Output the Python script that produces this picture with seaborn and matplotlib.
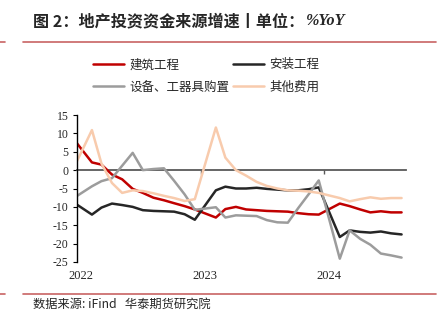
import numpy as np
import pandas as pd
import matplotlib
matplotlib.use("Agg")
import matplotlib.pyplot as plt
import matplotlib.dates as mdates
import matplotlib.transforms as mtransforms
from matplotlib.lines import Line2D
import seaborn as sns

# ---------------- data ----------------
months = ["2021-12",
          "2022-02", "2022-03", "2022-04", "2022-05", "2022-06", "2022-07",
          "2022-08", "2022-09", "2022-10", "2022-11", "2022-12",
          "2023-02", "2023-03", "2023-04", "2023-05", "2023-06", "2023-07",
          "2023-08", "2023-09", "2023-10", "2023-11", "2023-12",
          "2024-02", "2024-03", "2024-04", "2024-05", "2024-06", "2024-07",
          "2024-08"]
construction = [9.4,
                2.1, 1.5, -1.2, -2.5, -5.1, -6.2, -7.5, -8.2, -9.0, -9.8, -10.7,
                -12.9, -10.6, -10.0, -10.7, -10.9, -11.1, -11.2, -11.3, -11.7, -12.0, -12.1,
                -9.1, -9.8, -10.7, -11.5, -11.2, -11.5, -11.5]
installation = [-8.3,
                -12.1, -10.2, -9.1, -9.5, -10.0, -10.9, -11.1, -11.2, -11.3, -12.0, -13.5,
                -5.5, -4.5, -5.0, -5.0, -4.8, -5.1, -5.3, -5.5, -5.5, -5.2, -4.7,
                -18.2, -16.4, -16.8, -17.0, -16.7, -17.2, -17.5]
equipment = [-8.1,
             -4.4, -3.0, -2.2, 1.2, 4.7, 0.0, 0.3, 0.5, -2.9, -6.6, -10.8,
             -10.1, -12.9, -12.3, -12.4, -12.5, -13.6, -14.2, -14.3, -10.4, -6.6, -2.8,
             -24.1, -16.4, -18.7, -20.3, -22.7, -23.2, -23.8]
other = [-1.0,
         10.9, 1.8, -3.5, -6.2, -5.5, -5.7, -6.3, -7.0, -7.6, -8.4, -7.9,
         11.6, 3.4, 0.0, -1.5, -3.2, -4.3, -5.0, -5.5, -5.6, -5.8, -6.2,
         -7.6, -8.5, -7.9, -7.4, -7.8, -7.6, -7.6]

series_names = ["建筑工程", "安装工程", "设备、工器具购置", "其他费用"]
series_colors = ["#C00000", "#262626", "#9C9C9C", "#F8CBAD"]
year_labels = ["2022", "2023", "2024"]
y_ticks = [15, 10, 5, 0, -5, -10, -15, -20, -25]

# ---------------- style ----------------
sns.set_theme(style="white")
plt.rcParams["font.family"] = ["Noto Sans CJK SC", "DejaVu Sans"]
plt.rcParams["axes.unicode_minus"] = False

dates = pd.to_datetime(months)
frames = []
for name, vals in zip(series_names, [construction, installation, equipment, other]):
    frames.append(pd.DataFrame({"date": dates, "value": vals, "series": name}))
long = pd.concat(frames, ignore_index=True)

fig = plt.figure(figsize=(4.42, 3.28), dpi=100)
ax = fig.add_axes([77 / 442, 66 / 328, 329 / 442, 147 / 328])

sns.lineplot(data=long, x="date", y="value", hue="series",
             hue_order=series_names, palette=series_colors,
             linewidth=1.8, sort=False, ax=ax, legend=True)

handles, labels = ax.get_legend_handles_labels()
ax.get_legend().remove()

ax.set_xlim(pd.Timestamp("2021-12-19"), pd.Timestamp("2024-08-14"))
ax.set_ylim(-25, 15)
ax.set_yticks(y_ticks)
ax.set_xlabel("")
ax.set_ylabel("")

for s in ["top", "right"]:
    ax.spines[s].set_visible(False)
ax.spines["left"].set_color("black")
ax.spines["left"].set_linewidth(1.0)
ax.spines["bottom"].set_position(("data", 0))
ax.spines["bottom"].set_color("#595959")
ax.spines["bottom"].set_linewidth(1.3)
ax.spines["bottom"].set_zorder(1)

ax.set_xticks([pd.Timestamp("2022-12-18"), pd.Timestamp("2023-12-16")])
ax.set_xticklabels(["", ""])
ax.tick_params(axis="x", bottom=True, direction="out", length=3, width=1,
               color="#595959")
ax.tick_params(axis="y", left=True, direction="out", length=3, width=0.8,
               color="black", pad=3, labelsize=8.5)
for lab in ax.get_yticklabels():
    lab.set_fontfamily("Liberation Serif")
ax.grid(False)

trans = mtransforms.blended_transform_factory(ax.transData, fig.transFigure)
for y in year_labels:
    ax.text(mdates.date2num(pd.Timestamp(f"{y}-01-01")), 1 - 276 / 328, y,
            transform=trans, ha="center", va="center", fontsize=9,
            family="Liberation Serif", clip_on=False)

# legend (row-wise order like the reference)
order = [0, 2, 1, 3]
leg = fig.legend([handles[i] for i in order], [labels[i] for i in order],
                 ncol=2, loc="center",
                 bbox_to_anchor=(206 / 442, 1 - 76 / 328),
                 frameon=False, fontsize=9, handlelength=2.5,
                 handletextpad=0.4, columnspacing=0.3, labelspacing=0.75,
                 borderpad=0)

# title
t1 = fig.text(33 / 442, 1 - 21 / 328, "图 2：地产投资资金来源增速丨单位：",
              fontsize=11.6, fontweight="bold", ha="left", va="center")
fig.canvas.draw()
bb = t1.get_window_extent()
fig.text(bb.x1 / fig.bbox.width + 0.004, 1 - 21 / 328, "%YoY", fontsize=11.6,
         fontweight="bold", fontstyle="italic", family="Liberation Serif",
         ha="left", va="center")

# separator lines
line_color = "#C86464"
for yy in [1 - 41.7 / 328, 1 - 294 / 328]:
    fig.add_artist(Line2D([0, 5 / 442], [yy, yy], transform=fig.transFigure,
                          color=line_color, linewidth=1.2))
    fig.add_artist(Line2D([23 / 442, 436 / 442], [yy, yy], transform=fig.transFigure,
                          color=line_color, linewidth=1.2))

# footer
fig.text(33 / 442, 1 - 304 / 328, "数据来源: iFind   华泰期货研究院",
         fontsize=8.8, ha="left", va="center")

fig.savefig("out.png", dpi=100)
